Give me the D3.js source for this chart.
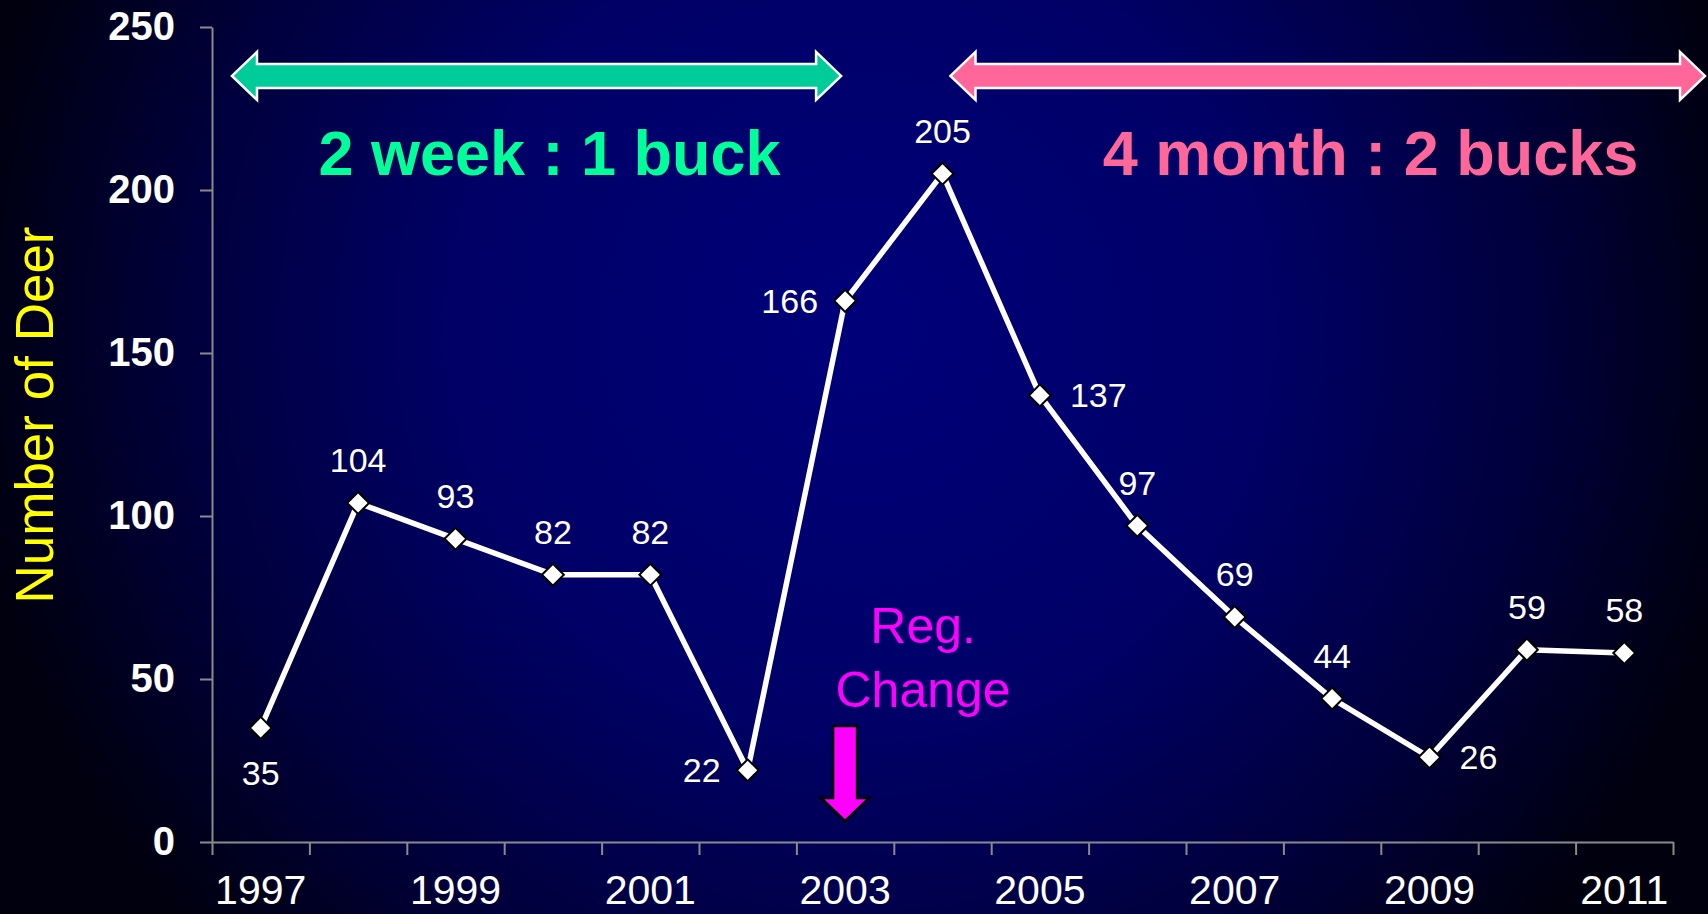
<!DOCTYPE html>
<html>
<head>
<meta charset="utf-8">
<script src="https://cdn.jsdelivr.net/npm/d3@7"></script>
<style>
  html, body { margin: 0; padding: 0; background: #000; overflow: hidden; }
  svg { display: block; font-family: Arial, "Liberation Sans", sans-serif; }
</style>
</head>
<body>
<svg id="chart" width="1708" height="914"></svg>
<script>
// data
var years = [1997, 1998, 1999, 2000, 2001, 2002, 2003, 2004, 2005, 2006, 2007, 2008, 2009, 2010, 2011];
var deer = [35, 104, 93, 82, 82, 22, 166, 205, 137, 97, 69, 44, 26, 59, 58];
var labelSide = ["below", "above", "above", "above", "above", "left", "left", "above", "right", "above", "above", "above", "right", "above", "above"];
var yTicks = [0, 50, 100, 150, 200, 250];
var xLabelYears = [1997, 1999, 2001, 2003, 2005, 2007, 2009, 2011];
var axisTitle = "Number of Deer";
var periodLabels = ["2 week : 1 buck", "4 month : 2 bucks"];
var noteLines = ["Reg.", "Change"];

var W = 1708, H = 914;
var margin = {top: 27, right: 35, bottom: 72, left: 212};
var innerW = W - margin.left - margin.right,
    innerH = H - margin.top - margin.bottom;

var svg = d3.select("#chart");

// background, navy glow in the middle going dark at the edges
var defs = svg.append("defs");
var grad = defs.append("radialGradient")
    .attr("id", "bg")
    .attr("gradientUnits", "userSpaceOnUse")
    .attr("cx", 860).attr("cy", 330).attr("r", 900);
grad.append("stop").attr("offset", 0).attr("stop-color", "#00007a");
grad.append("stop").attr("offset", 0.45).attr("stop-color", "#000066");
grad.append("stop").attr("offset", 0.75).attr("stop-color", "#00003c");
grad.append("stop").attr("offset", 1).attr("stop-color", "#00000e");
svg.append("rect").attr("width", W).attr("height", H).attr("fill", "url(#bg)");

var g = svg.append("g").attr("transform", "translate(" + margin.left + "," + margin.top + ")");

var x = d3.scaleBand().domain(years).range([0, innerW]).padding(0);
var xIdx = d3.scaleLinear().domain([0, years.length]).range([0, innerW]);
var y = d3.scaleLinear().domain([0, 250]).range([innerH, 0]);
var cx = function(yr) { return x(yr) + x.bandwidth() / 2; };

// y axis
var yAxis = g.append("g")
    .call(d3.axisLeft(y).tickValues(yTicks).tickSize(12).tickSizeOuter(0).tickPadding(25));
yAxis.selectAll("path, line").attr("stroke", "#8a8a8a").attr("stroke-width", 2);
yAxis.selectAll("text")
    .attr("fill", "#fff").style("font-size", "40px").style("font-weight", "bold");

// x axis: ticks between categories, labels every other year
var xTickAxis = g.append("g").attr("transform", "translate(0," + innerH + ")")
    .call(d3.axisBottom(xIdx).ticks(years.length).tickSize(13).tickSizeOuter(0).tickFormat(""));
xTickAxis.selectAll("path, line").attr("stroke", "#8a8a8a").attr("stroke-width", 2);

var xLabAxis = g.append("g").attr("transform", "translate(0," + innerH + ")")
    .call(d3.axisBottom(x).tickValues(xLabelYears).tickSize(0).tickPadding(33));
xLabAxis.select(".domain").remove();
xLabAxis.selectAll("text").attr("fill", "#fff").style("font-size", "41px");

// axis title
svg.append("text")
    .attr("transform", "translate(53," + 415 + ") rotate(-90)")
    .attr("text-anchor", "middle")
    .attr("fill", "#ffff00")
    .style("font-size", "53px")
    .text(axisTitle);

// period arrows
function doubleArrow(x0, x1, yc, shaft, head, len) {
  return "M" + x0 + "," + yc +
    "L" + (x0 + len) + "," + (yc - head) +
    "L" + (x0 + len) + "," + (yc - shaft) +
    "L" + (x1 - len) + "," + (yc - shaft) +
    "L" + (x1 - len) + "," + (yc - head) +
    "L" + x1 + "," + yc +
    "L" + (x1 - len) + "," + (yc + head) +
    "L" + (x1 - len) + "," + (yc + shaft) +
    "L" + (x0 + len) + "," + (yc + shaft) +
    "L" + (x0 + len) + "," + (yc + head) + "Z";
}
var arrowY = y(235);
g.append("path")
    .attr("d", doubleArrow(x(1997) + 20, cx(2003) - 4, arrowY, 12, 24, 25))
    .attr("fill", "#00cc99").attr("stroke", "#fff").attr("stroke-width", 2.5);
g.append("path")
    .attr("d", doubleArrow(cx(2004) + 8, innerW + 32, arrowY, 12, 24, 25))
    .attr("fill", "#ff6699").attr("stroke", "#fff").attr("stroke-width", 2.5);

g.append("text")
    .attr("x", (x(1997) + 20 + cx(2003)) / 2 + 11).attr("y", y(205) + 1)
    .attr("text-anchor", "middle").attr("fill", "#00ff99")
    .style("font-size", "63px").style("font-weight", "bold")
    .text(periodLabels[0]);
g.append("text")
    .attr("x", cx(2004) + 428).attr("y", y(205) + 1)
    .attr("text-anchor", "middle").attr("fill", "#ff6699")
    .style("font-size", "63px").style("font-weight", "bold")
    .text(periodLabels[1]);

// regulation change note + arrow
var noteX = cx(2003);
g.append("text")
    .attr("text-anchor", "middle").attr("fill", "#ff00ff")
    .style("font-size", "50px")
    .selectAll("tspan").data(noteLines).join("tspan")
    .attr("x", noteX + 78)
    .attr("y", function(d, i) { return y(0) - 199 + i * 64; })
    .text(function(d) { return d; });

var aTop = y(0) - 116, aBase = y(0) - 44, aTip = y(0) - 21;
g.append("path")
    .attr("d", "M" + (noteX - 12) + "," + aTop + "L" + (noteX + 12) + "," + aTop +
      "L" + (noteX + 12) + "," + aBase + "L" + (noteX + 24) + "," + aBase +
      "L" + noteX + "," + aTip + "L" + (noteX - 24) + "," + aBase +
      "L" + (noteX - 12) + "," + aBase + "Z")
    .attr("fill", "#ff00ff").attr("stroke", "#000").attr("stroke-width", 2.5);

// the series
var pts = years.map(function(yr, i) { return {year: yr, value: deer[i], side: labelSide[i]}; });

g.append("path")
    .datum(pts)
    .attr("fill", "none").attr("stroke", "#fff").attr("stroke-width", 5.5)
    .attr("stroke-linejoin", "round")
    .attr("d", d3.line().x(function(d) { return cx(d.year); }).y(function(d) { return y(d.value); }));

g.selectAll(".mk").data(pts).join("path")
    .attr("class", "mk")
    .attr("d", d3.symbol(d3.symbolSquare, 240))
    .attr("transform", function(d) { return "translate(" + cx(d.year) + "," + y(d.value) + ") rotate(45)"; })
    .attr("fill", "#fff").attr("stroke", "#000").attr("stroke-width", 2);

g.selectAll(".lbl").data(pts).join("text")
    .attr("class", "lbl")
    .attr("fill", "#fff").style("font-size", "34px")
    .attr("text-anchor", function(d) { return d.side === "left" ? "end" : d.side === "right" ? "start" : "middle"; })
    .attr("x", function(d) {
      if (d.side === "left") return cx(d.year) - 27;
      if (d.side === "right") return cx(d.year) + 30;
      return cx(d.year);
    })
    .attr("y", function(d) {
      if (d.side === "above") return y(d.value) - 31;
      if (d.side === "below") return y(d.value) + 57;
      return y(d.value) + 12;
    })
    .text(function(d) { return d.value; });
</script>
</body>
</html>
